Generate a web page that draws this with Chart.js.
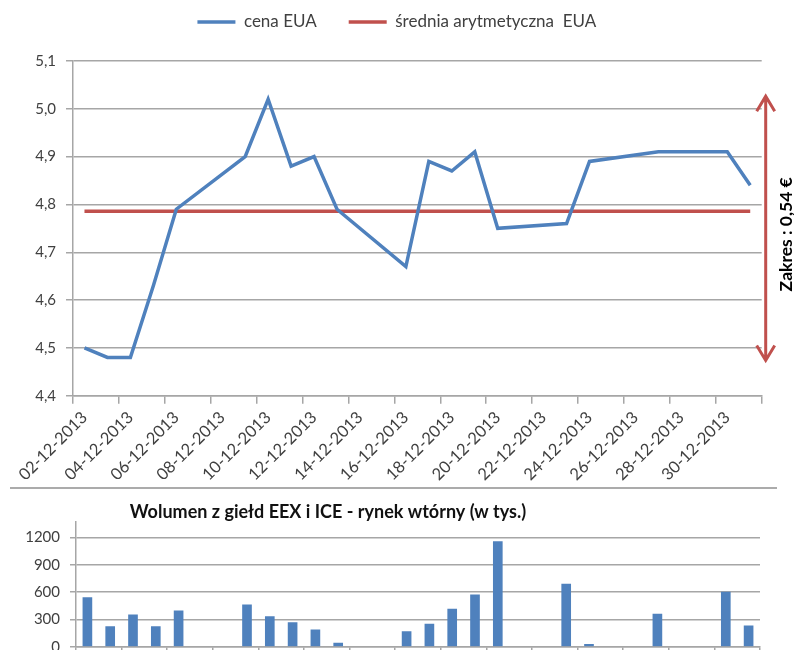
<!DOCTYPE html>
<html>
<head>
<meta charset="utf-8">
<script src="https://cdn.jsdelivr.net/npm/chart.js@4"></script>
<style>
  html, body { margin: 0; padding: 0; background: #fff; overflow: hidden; }
  body { width: 794px; height: 650px; position: relative; }
  #priceChart { position: absolute; left: 0; top: 0; }
  #volumeChart { position: absolute; left: 0; top: 490px; }
  .sep { position: absolute; left: 10px; top: 487px; width: 767px; border-top: 2px solid #ababab; }
</style>
</head>
<body>
<canvas id="priceChart" width="794" height="488"></canvas>
<div class="sep"></div>
<canvas id="volumeChart" width="794" height="200"></canvas>
<script>
const dates = [
  "02-12-2013", "03-12-2013", "04-12-2013", "05-12-2013", "06-12-2013",
  "07-12-2013", "08-12-2013", "09-12-2013", "10-12-2013", "11-12-2013",
  "12-12-2013", "13-12-2013", "14-12-2013", "15-12-2013", "16-12-2013",
  "17-12-2013", "18-12-2013", "19-12-2013", "20-12-2013", "21-12-2013",
  "22-12-2013", "23-12-2013", "24-12-2013", "25-12-2013", "26-12-2013",
  "27-12-2013", "28-12-2013", "29-12-2013", "30-12-2013", "31-12-2013",
];

// cena EUA (null = brak notowań)
const price = [
  4.50, 4.48, 4.48, 4.63, 4.79,
  null, null, 4.90, 5.02, 4.88,
  4.90, 4.79, null, null, 4.67,
  4.89, 4.87, 4.91, 4.75, null,
  null, 4.76, 4.89, null, null,
  4.91, null, null, 4.91, 4.84,
];

const meanEUA = 4.786;

// wolumen w tys.
const volume = [
  540, 220, 350, 220, 395,
  null, null, 460, 330, 265,
  185, 40, null, null, 165,
  250, 415, 570, 1155, null,
  null, 690, 25, null, null,
  360, null, null, 600, 230,
];

const priceTicks = [4.4, 4.5, 4.6, 4.7, 4.8, 4.9, 5.0, 5.1];
const volumeTicks = [0, 300, 600, 900, 1200];

const blue = "#4f81bd";
const red = "#c0504d";
const grey = "#a6a6a6";
const textGrey = "#404040";

Chart.defaults.font.family = "Lato, 'Noto Sans', sans-serif";

const everyOther = (c) => (c.index === undefined || c.index % 2 === 0 ? grey : "rgba(0,0,0,0)");

// extra room under the legend
const legendMargin = {
  id: "legendMargin",
  beforeInit(chart) {
    const fit = chart.legend.fit;
    chart.legend.fit = function () {
      fit.bind(chart.legend)();
      this.height += 20.5;
    };
  },
};

const rangeArrow = {
  id: "rangeArrow",
  afterDraw(chart) {
    const { ctx, chartArea, scales } = chart;
    const vals = price.filter((v) => v !== null);
    const hi = Math.max(...vals);
    const lo = Math.min(...vals);
    const yTop = scales.y.getPixelForValue(hi) - 3;
    const yBot = scales.y.getPixelForValue(lo) + 3;
    const x = chartArea.right + 4;
    ctx.save();
    ctx.strokeStyle = red;
    ctx.lineWidth = 3;
    ctx.beginPath();
    ctx.moveTo(x, yTop);
    ctx.lineTo(x, yBot);
    ctx.moveTo(x - 9, yTop + 15);
    ctx.lineTo(x, yTop);
    ctx.lineTo(x + 9, yTop + 15);
    ctx.moveTo(x - 9, yBot - 15);
    ctx.lineTo(x, yBot);
    ctx.lineTo(x + 9, yBot - 15);
    ctx.stroke();

    ctx.translate(786, (yTop + yBot) / 2 + 6);
    ctx.rotate(-Math.PI / 2);
    ctx.fillStyle = "#000";
    ctx.font = "bold 17.5px Lato, 'Noto Sans', sans-serif";
    ctx.textAlign = "center";
    ctx.textBaseline = "middle";
    ctx.fillText("Zakres : " + (hi - lo).toFixed(2).replace(".", ",") + " €", 0, 0);
    ctx.restore();
  },
};

new Chart(document.getElementById("priceChart"), {
  type: "line",
  data: {
    labels: dates,
    datasets: [
      {
        label: "cena EUA",
        data: price,
        borderColor: blue,
        backgroundColor: blue,
        borderWidth: 3.5,
        pointRadius: 0,
        spanGaps: true,
      },
      {
        label: "średnia arytmetyczna  EUA",
        data: price.map((v) => (v === null ? null : meanEUA)),
        borderColor: red,
        backgroundColor: red,
        borderWidth: 3.5,
        pointRadius: 0,
        spanGaps: true,
      },
    ],
  },
  options: {
    responsive: false,
    animation: false,
    events: [],
    layout: { padding: { top: -18.5, left: 32, right: 32.3, bottom: 0 } },
    plugins: {
      legend: {
        labels: {
          usePointStyle: true,
          pointStyle: "line",
          pointStyleWidth: 38,
          padding: 32,
          color: textGrey,
          font: { size: 17 },
        },
      },
      tooltip: { enabled: false },
    },
    scales: {
      x: {
        offset: true,
        grid: { offset: true, drawOnChartArea: false, tickLength: 8, tickColor: everyOther, lineWidth: 1.5 },
        border: { color: grey, width: 1.5 },
        ticks: {
          autoSkip: false,
          maxRotation: 45,
          minRotation: 45,
          padding: 4,
          color: textGrey,
          font: { size: 16.5 },
          callback: function (v, i) {
            return i % 2 === 0 ? this.getLabelForValue(v) : "";
          },
        },
        afterFit: (s) => { s.height = 488 - 395.7; },
      },
      y: {
        min: 4.4,
        max: 5.1,
        afterBuildTicks: (s) => { s.ticks = priceTicks.map((v) => ({ value: v })); },
        grid: { color: grey, lineWidth: 1.5, tickLength: 7 },
        border: { color: grey, width: 1.5 },
        ticks: {
          padding: 10,
          color: textGrey,
          font: { size: 15 },
          callback: (v) => v.toFixed(1).replace(".", ","),
        },
        afterFit: (s) => { s.width = 41; },
      },
    },
  },
  plugins: [legendMargin, rangeArrow],
});

const volumeTitle = {
  id: "volumeTitle",
  afterDraw(chart) {
    const { ctx } = chart;
    ctx.save();
    ctx.fillStyle = "#111";
    ctx.font = "bold 18px Lato, 'Noto Sans', sans-serif";
    ctx.textAlign = "center";
    ctx.textBaseline = "middle";
    ctx.fillText("Wolumen z giełd EEX i ICE - rynek wtórny (w tys.)", 328, 22);
    ctx.restore();
  },
};

new Chart(document.getElementById("volumeChart"), {
  type: "bar",
  data: {
    labels: dates,
    datasets: [{ label: "wolumen", data: volume, backgroundColor: blue, barThickness: 9 }],
  },
  options: {
    responsive: false,
    animation: false,
    events: [],
    layout: { padding: { top: 31.7, left: 0, right: 34, bottom: 0 } },
    plugins: { legend: { display: false }, tooltip: { enabled: false } },
    scales: {
      x: {
        grid: { offset: true, drawOnChartArea: false, tickLength: 10, tickColor: everyOther, lineWidth: 1.5 },
        border: { color: grey, width: 1.5 },
        ticks: { display: false },
        afterFit: (s) => { s.height = 200 - 156.7; },
      },
      y: {
        min: 0,
        max: 1375,
        afterBuildTicks: (s) => { s.ticks = volumeTicks.map((v) => ({ value: v })); },
        grid: { color: grey, lineWidth: 1.5, tickLength: 6 },
        border: { color: grey, width: 1.5 },
        ticks: { padding: 10, color: textGrey, font: { size: 15 }, callback: (v) => String(v) },
        afterFit: (s) => { s.width = 76; },
      },
    },
  },
  plugins: [volumeTitle],
});
</script>
</body>
</html>
